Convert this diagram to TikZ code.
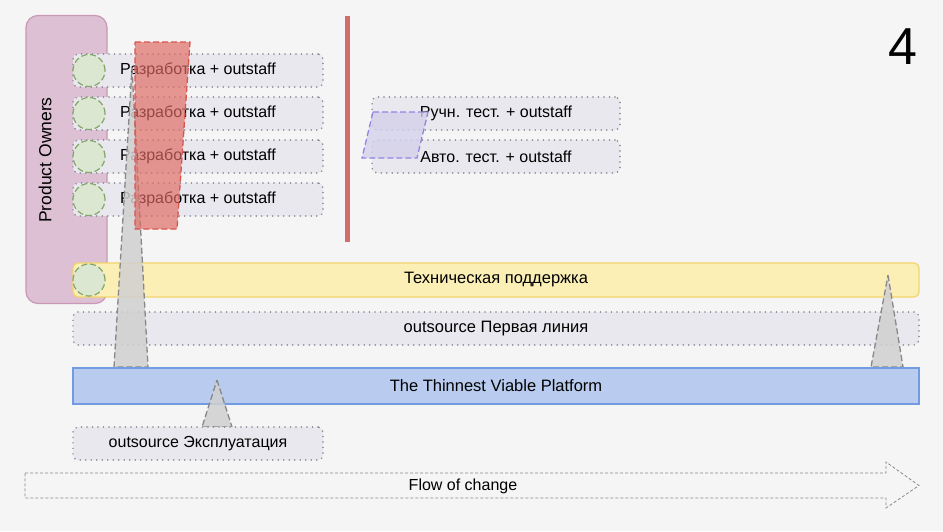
\documentclass[tikz,border=0pt]{standalone}
\usepackage{fontspec}
\setmainfont{Liberation Sans}
\usepackage{xcolor}
\definecolor{paperbg}{HTML}{F5F5F5}
\definecolor{pofill}{HTML}{DDC0D3}
\definecolor{podraw}{HTML}{C898B6}
\definecolor{rowfill}{HTML}{E9E8EE}
\definecolor{rowdraw}{HTML}{84848F}
\definecolor{peerfill}{HTML}{DCE7D1}
\definecolor{peerdraw}{HTML}{82A66C}
\definecolor{teamred}{HTML}{E06A63}
\definecolor{teamedge}{HTML}{D9534F}
\definecolor{wallred}{HTML}{D46C6A}
\definecolor{qafill}{HTML}{D4D1EB}
\definecolor{qadraw}{HTML}{8F86E4}
\definecolor{supfill}{HTML}{FCEFB6}
\definecolor{supdraw}{HTML}{F2D46A}
\definecolor{tvpfill}{HTML}{B9CCEF}
\definecolor{tvpdraw}{HTML}{739BE3}
\definecolor{trifill}{HTML}{D0D0D0}
\definecolor{tridraw}{HTML}{888888}
\usetikzlibrary{shapes.geometric, arrows.meta, calc}
\newcommand{\rowfont}{\fontsize{16}{18}\selectfont}
\newcommand{\barfont}{\fontsize{16.5}{18}\selectfont}
\tikzset{
  pobox/.style={
    rectangle, draw=podraw, fill=pofill, line width=1.2pt,
    rounded corners=12pt},
  rowbox/.style={
    rectangle, draw=rowdraw, fill=rowfill, line width=1.7pt,
    dash pattern=on 0pt off 5.5pt, line cap=round,
    minimum height=33, rounded corners=5pt, font=\rowfont},
  peer/.style={
    circle, draw=peerdraw, fill=peerfill, line width=1.2pt,
    dash pattern=on 6pt off 3pt,
    minimum size=32, inner sep=0pt},
  barbox/.style={
    rectangle, line width=1.2pt, minimum width=846,
    align=center, font=\barfont},
  stream/.style={
    draw=tridraw, fill=trifill, fill opacity=0.85,
    line width=1.3pt, dash pattern=on 6pt off 3pt},
}

\begin{document}
\begin{tikzpicture}[x=1pt, y=-1pt]
  \fill[paperbg] (0,0) rectangle (943,531);
  \useasboundingbox (0,0) rectangle (943,531);

  % product owners
  \node[pobox, minimum width=81, minimum height=288] (po) at (66.5,159.5) {};
  \node[rotate=90, font=\fontsize{17.5}{19}\selectfont] (polabel)
    at (45,160) {Product Owners};

  % dev teams
  \foreach \y [count=\i] in {70.5,113.5,156.5,199.5} {
    \node[rowbox, minimum width=250] (dev\i) at (198,\y)
      {Разработка + outstaff};
    \node[peer] (peer\i) at (89,\y) {};
  }

  % qa teams
  \node[rowbox, minimum width=248] (manqa) at (496,113.5)
    {Ручн. тест. + outstaff};
  \node[rowbox, minimum width=248] (autoqa) at (496,156.5)
    {Авто. тест. + outstaff};
  \filldraw[draw=qadraw, fill=qafill, fill opacity=0.8,
    line width=1.3pt, dash pattern=on 6pt off 3pt]
    (373,112) -- (428,112) -- (417,158) -- (362,158) -- cycle;

  % support and first line
  \node[barbox, draw=supdraw, fill=supfill, minimum height=34,
    rounded corners=5pt] (support) at (496,280) {Техническая поддержка};
  \node[peer] (peer5) at (89,280) {};
  \node[rowbox, minimum width=846, font=\barfont] (firstline)
    at (496,328.5) {outsource Первая линия};

  % streams
  \filldraw[stream] (132,68) -- (148,367) -- (114,367) -- cycle;
  \filldraw[stream] (888,275) -- (903,367) -- (871,367) -- cycle;

  % dev team block and wall
  \filldraw[draw=teamedge, fill=teamred, fill opacity=0.68,
    line width=1.3pt, dash pattern=on 6pt off 3pt]
    (135,42) -- (190,42) -- (177,229) -- (135,229) -- cycle;
  \draw[wallred, line width=5pt] (347,16) -- (347,242);

  % platform
  \node[barbox, draw=tvpdraw, fill=tvpfill, minimum height=36]
    (tvp) at (496,386) {The Thinnest Viable Platform};
  \filldraw[stream] (217,380) -- (232,427) -- (202,427) -- cycle;
  \node[rowbox, minimum width=250] (ops) at (198,443.5)
    {outsource Эксплуатация};

  % flow of change
  \draw[tridraw, line width=0.8pt, dash pattern=on 3pt off 2pt]
    (25,473) -- (886,473) -- (886,462) -- (919,485.5) -- (886,508)
    -- (886,498) -- (25,498) -- cycle;
  \node[font=\rowfont] (flow) at (463,486) {Flow of change};

  \node[font=\fontsize{52}{52}\selectfont] (slide) at (903,47) {4};
\end{tikzpicture}
\end{document}
